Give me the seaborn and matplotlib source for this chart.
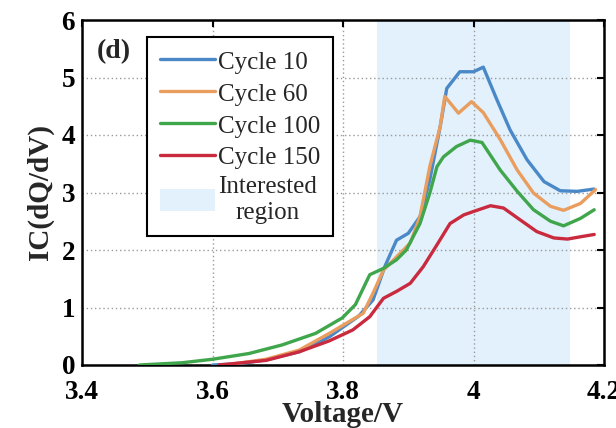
import matplotlib
matplotlib.use("Agg")
import matplotlib.pyplot as plt
import seaborn as sns
import pandas as pd

# ---- data ----
v_c10 = [3.60, 3.64, 3.682, 3.733, 3.779, 3.824, 3.846, 3.864, 3.882, 3.900, 3.918, 3.933,
         3.949, 3.959, 3.979, 4.000, 4.015, 4.036, 4.056, 4.082, 4.108, 4.133, 4.159, 4.185]
ic_c10 = [0.0, 0.02, 0.09, 0.23, 0.49, 0.85, 1.13, 1.71, 2.17, 2.29, 2.58, 3.22,
          4.15, 4.81, 5.10, 5.10, 5.18, 4.61, 4.09, 3.57, 3.19, 3.03, 3.02, 3.06]

v_c60 = [3.62, 3.682, 3.733, 3.779, 3.831, 3.846, 3.862, 3.882, 3.903, 3.918, 3.933, 3.949,
         3.956, 3.977, 3.997, 4.015, 4.041, 4.067, 4.092, 4.118, 4.138, 4.164, 4.187]
ic_c60 = [0.0, 0.10, 0.26, 0.55, 0.90, 1.25, 1.65, 1.88, 2.12, 2.58, 3.45, 4.15,
          4.67, 4.38, 4.58, 4.39, 3.92, 3.39, 2.99, 2.76, 2.69, 2.81, 3.05]

v_c100 = [3.488, 3.554, 3.600, 3.656, 3.707, 3.758, 3.799, 3.819, 3.841, 3.862, 3.882, 3.897,
          3.918, 3.933, 3.944, 3.954, 3.974, 3.995, 4.013, 4.041, 4.067, 4.092, 4.118, 4.138,
          4.164, 4.185]
ic_c100 = [0.0, 0.04, 0.10, 0.20, 0.35, 0.55, 0.82, 1.05, 1.57, 1.68, 1.83, 2.00,
           2.46, 2.99, 3.45, 3.62, 3.80, 3.91, 3.87, 3.39, 3.02, 2.70, 2.50, 2.42,
           2.55, 2.70]

v_c150 = [3.61, 3.682, 3.733, 3.779, 3.815, 3.841, 3.862, 3.882, 3.903, 3.923, 3.944, 3.964,
          3.985, 4.000, 4.026, 4.046, 4.072, 4.097, 4.123, 4.144, 4.164, 4.185]
ic_c150 = [0.0, 0.08, 0.23, 0.42, 0.61, 0.84, 1.16, 1.28, 1.42, 1.71, 2.09, 2.46,
           2.61, 2.67, 2.77, 2.73, 2.52, 2.32, 2.21, 2.19, 2.23, 2.27]

series_names = ["Cycle 10", "Cycle 60", "Cycle 100", "Cycle 150"]
series_v = [v_c10, v_c60, v_c100, v_c150]
series_ic = [ic_c10, ic_c60, ic_c100, ic_c150]
series_colors = ["#4A88C7", "#E99D5E", "#3FA64C", "#C92A3E"]

region = (3.852, 4.148)
region_label = "Interested\nregion"
x_ticks = [3.4, 3.6, 3.8, 4.0, 4.2]
x_ticklabels = ["3.4", "3.6", "3.8", "4", "4.2"]
y_ticks = [0, 1, 2, 3, 4, 5, 6]

# ---- style ----
sns.set_style("white")
plt.rcParams["font.family"] = ["Liberation Serif", "DejaVu Serif"]

fig = plt.figure(figsize=(6.16, 4.28), dpi=100)
ax = fig.add_axes([82 / 616, 1 - 365 / 428, (604 - 82) / 616, (365 - 20) / 428])

ax.axvspan(region[0], region[1], color="#E2F1FC", lw=0, zorder=0, label=region_label)

for name, v, ic, c in zip(series_names, series_v, series_ic, series_colors):
    df = pd.DataFrame({"V": v, "IC": ic})
    sns.lineplot(data=df, x="V", y="IC", ax=ax, color=c, lw=2.4, label=name,
                 sort=False, estimator=None, zorder=3)

ax.set_xlim(3.4, 4.2)
ax.set_ylim(0, 6)
ax.set_xticks(x_ticks)
ax.set_xticklabels(x_ticklabels)
ax.set_yticks(y_ticks)

ax.grid(True, ls=(0, (1, 2)), color="#9a9a9a", lw=1.0)
ax.set_axisbelow(True)

for s in ax.spines.values():
    s.set_visible(True)
    s.set_color("black")
    s.set_linewidth(1.8)

ax.tick_params(direction="in", length=5, width=1.5, top=True, right=True,
               labelsize=19.5, colors="black")
ax.tick_params(axis="x", pad=11)
ax.tick_params(axis="y", pad=5)
for lab in ax.get_xticklabels() + ax.get_yticklabels():
    lab.set_fontweight("bold")

ax.set_xlabel("Voltage/V", fontsize=21, fontweight="bold", labelpad=-3)
ax.set_ylabel("IC(dQ/dV)", fontsize=21, fontweight="bold", labelpad=5)

ax.text(3.422, 5.45, "(d)", fontsize=20, fontweight="bold", ha="left", va="center")

handles, labels = ax.get_legend_handles_labels()
order = [labels.index(n) for n in series_names] + [labels.index(region_label)]
leg = ax.legend([handles[i] for i in order], [labels[i] for i in order],
                loc="upper left", bbox_to_anchor=(0.125, 0.951), borderaxespad=0,
                fontsize=18, frameon=True, fancybox=False, edgecolor="black",
                framealpha=1, handlelength=2.2, handleheight=1.0, handletextpad=0.15,
                labelspacing=0.28, borderpad=0.5)
leg.get_frame().set_linewidth(1.5)
for t in leg.get_texts():
    t.set_multialignment("center")

fig.savefig("out.png", dpi=100)
